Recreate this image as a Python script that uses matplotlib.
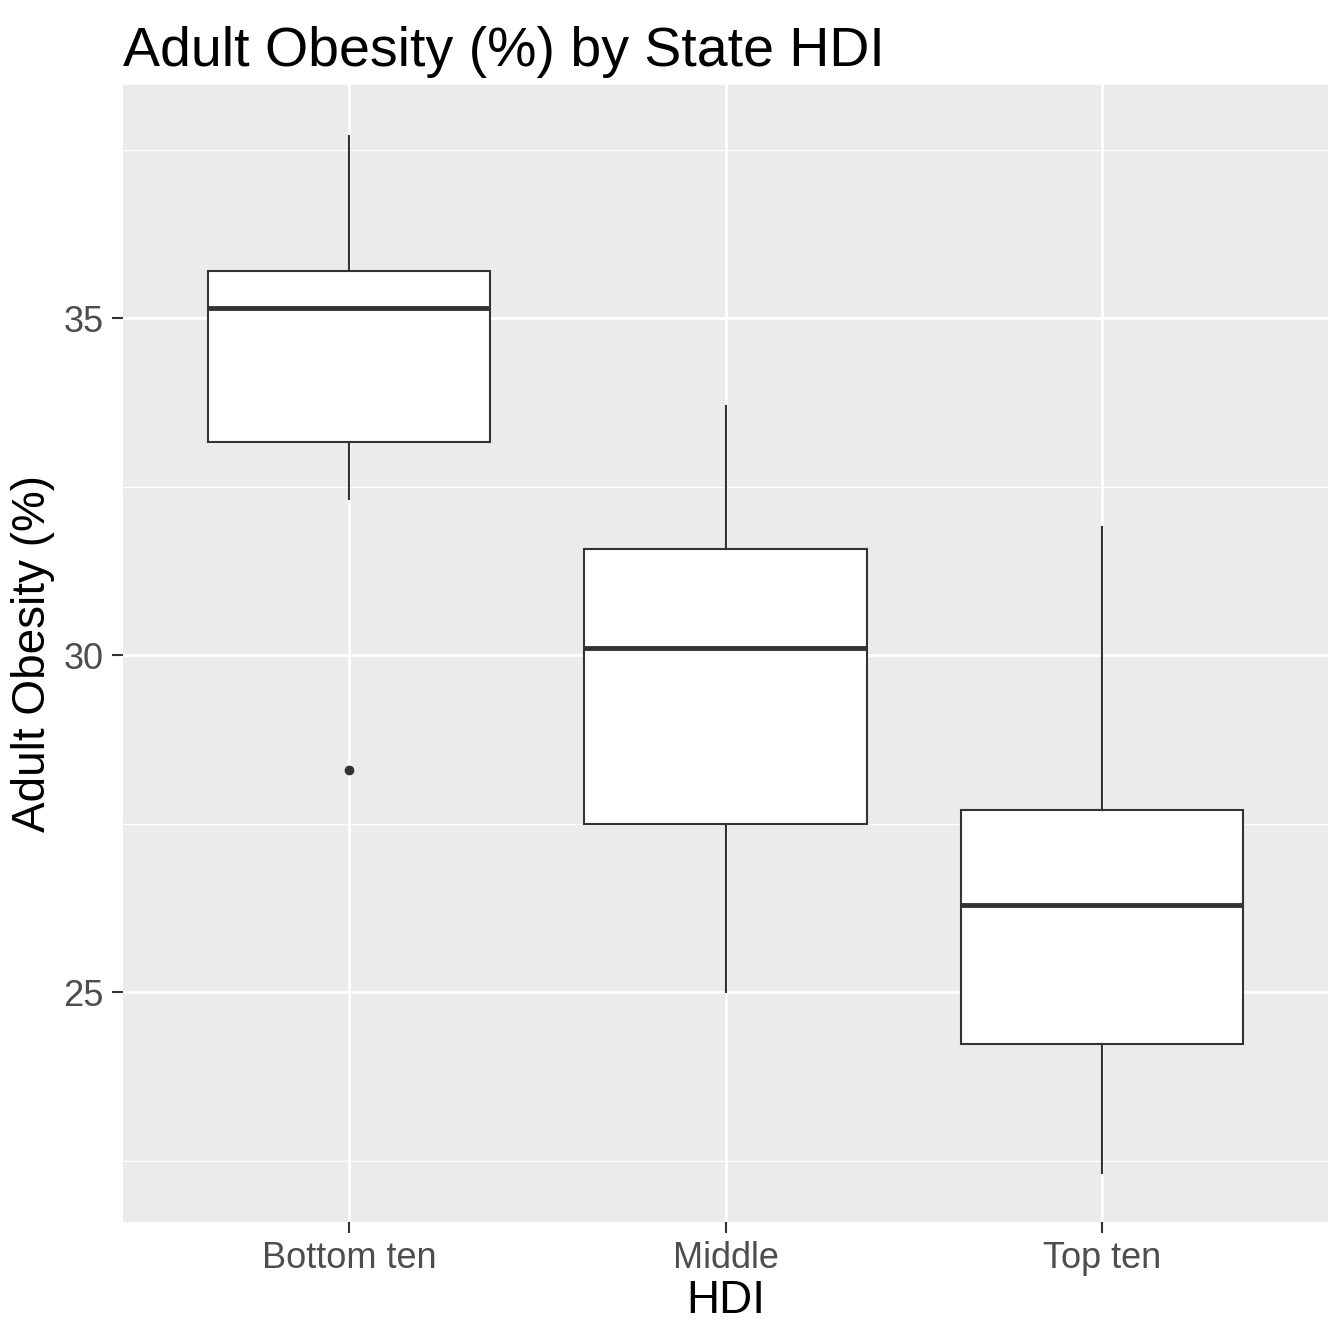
import matplotlib
matplotlib.use("Agg")
import matplotlib.pyplot as plt

plt.rcParams['font.family'] = ['Liberation Sans', 'DejaVu Sans']

categories = ["Bottom ten", "Middle", "Top ten"]
whislo = [32.31, 25.0, 22.31]
q1 = [33.16, 27.49, 24.23]
med = [35.15, 30.1, 26.29]
q3 = [35.7, 31.57, 27.7]
whishi = [37.7, 33.7, 31.9]
fliers = [[28.3], [], []]

stats = [dict(label=c, whislo=a, q1=b, med=m, q3=d, whishi=e, fliers=f)
         for c, a, b, m, d, e, f in zip(categories, whislo, q1, med, q3, whishi, fliers)]

fig = plt.figure(figsize=(13.44, 13.44), dpi=100)
ax = fig.add_axes([123/1344, 1-1222/1344, (1328-123)/1344, (1222-85)/1344])
ax.set_facecolor('#EBEBEB')
for s in ax.spines.values():
    s.set_visible(False)

for y in [22.5, 27.5, 32.5, 37.5]:
    ax.axhline(y, color='white', lw=1, zorder=0)
for y in [25, 30, 35]:
    ax.axhline(y, color='white', lw=2, zorder=0)
for x in [1, 2, 3]:
    ax.axvline(x, color='white', lw=2, zorder=0)

ax.bxp(stats, positions=[1, 2, 3], widths=0.75, patch_artist=True, showcaps=False,
       boxprops=dict(facecolor='white', edgecolor='#333333', lw=1.5),
       medianprops=dict(color='#333333', lw=3.5),
       whiskerprops=dict(color='#333333', lw=1.5),
       flierprops=dict(marker='o', markerfacecolor='#333333', markeredgecolor='#333333', markersize=6),
       zorder=2)

ax.set_xlim(0.4, 3.6)
ax.set_ylim(21.59, 38.46)
ax.set_yticks([25, 30, 35])
ax.set_xticks([1, 2, 3])
ax.set_xticklabels(categories)
ax.tick_params(axis='both', colors='#333333', labelsize=26, length=8, width=1.5, labelcolor='#4D4D4D', pad=6)
ax.set_xlabel("HDI", fontsize=33, labelpad=2)
ax.set_ylabel("Adult Obesity (%)", fontsize=33, labelpad=6)
ax.set_title("Adult Obesity (%) by State HDI", fontsize=40, loc='left', pad=14)

fig.savefig("out.png", dpi=100)
